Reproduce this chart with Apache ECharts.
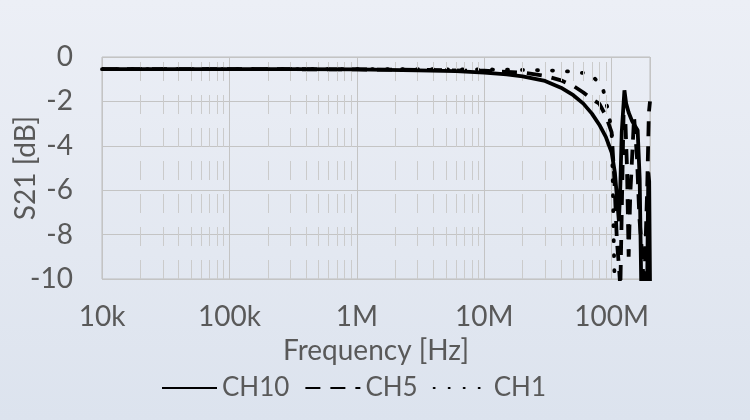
<!DOCTYPE html>
<html>
<head>
<meta charset="utf-8">
<script src="https://cdn.jsdelivr.net/npm/echarts@6/dist/echarts.min.js"></script>
<style>
html,body{margin:0;padding:0;}
#c{width:750px;height:420px;background:linear-gradient(180deg,#eceff6 0%,#e3e8f1 60%,#dce3ee 100%);}
</style>
</head>
<body>
<div id="c"></div>
<script>
// Data (frequency in Hz, S21 in dB)
const seriesNames = ['CH10', 'CH5', 'CH1'];
const xTickLabels = {10000: '10k', 100000: '100k', 1000000: '1M', 10000000: '10M', 100000000: '100M'};

const freqCH10 = [1e4, 2e4, 5e4, 1e5, 3e5, 1e6, 3e6, 6e6, 1e7, 1.5e7, 2e7, 3e7, 4e7, 5e7, 6e7, 7e7, 8e7, 9e7, 1e8, 1.06e8, 1.1e8, 1.14e8, 1.17e8, 1.2e8, 1.26e8, 1.3e8, 1.36e8, 1.45e8, 1.6e8, 1.66e8, 1.71e8, 1.8e8, 1.9e8, 1.94e8, 1.97e8, 2e8];
const valCH10  = [-0.55, -0.55, -0.55, -0.55, -0.55, -0.56, -0.6, -0.64, -0.7, -0.78, -0.87, -1.08, -1.38, -1.72, -2.1, -2.55, -3.05, -3.6, -4.3, -5.2, -6.3, -7.4, -5.8, -3.4, -1.5, -2.1, -2.5, -2.9, -3.3, -5.5, -10.5, -12, -10.4, -5.2, -5.6, -10.2];

const freqCH5 = [1e4, 2e4, 5e4, 1e5, 3e5, 1e6, 3e6, 1e7, 2e7, 3e7, 4e7, 5e7, 6e7, 7e7, 8e7, 9e7, 1e8, 1.05e8, 1.1e8, 1.14e8, 1.17e8, 1.2e8, 1.24e8, 1.28e8, 1.32e8, 1.36e8, 1.4e8, 1.5e8, 1.58e8, 1.65e8, 1.72e8, 1.8e8, 1.9e8, 1.96e8, 2e8];
const valCH5  = [-0.55, -0.55, -0.55, -0.55, -0.55, -0.56, -0.58, -0.62, -0.7, -0.85, -1.05, -1.3, -1.6, -1.9, -2.1, -2.65, -3.4, -5.5, -8.3, -9.4, -10.4, -7.0, -2.6, -2.8, -5.0, -9.0, -6.2, -2.7, -4.5, -7.2, -8.6, -10.5, -6.0, -2.5, -2.0];

const freqCH1 = [1e4, 2e4, 5e4, 1e5, 3e5, 1e6, 3e6, 1e7, 2e7, 4e7, 6e7, 7e7, 8e7, 8.6e7, 9e7, 9.5e7, 1e8, 1.02e8, 1.04e8, 1.06e8, 1.15e8, 1.5e8, 1.9e8, 2e8];
const valCH1  = [-0.55, -0.55, -0.55, -0.55, -0.55, -0.55, -0.55, -0.56, -0.58, -0.62, -0.72, -0.82, -1.2, -1.5, -1.95, -2.6, -3.3, -5.5, -8.5, -10.6, -12, -12, -11, -9.9];

const yMin = -10, yMax = 0, yStep = 2;
const xMin = 1e4, xMax = 2e8;

function pairs(f, v) { return f.map((x, i) => [x, v[i]]); }

// minor (2..9) log grid positions
const minorGrid = [];
for (let d = 1e4; d < xMax; d *= 10) {
  for (let m = 2; m <= 9; m++) { if (d * m < xMax) minorGrid.push(d * m); }
}

const chart = echarts.init(document.getElementById('c'), null, {renderer: 'canvas'});
const txt = '#595959';
const font = 'Lato, "Liberation Sans", sans-serif';

chart.setOption({
  backgroundColor: 'transparent',
  animation: false,
  textStyle: {fontFamily: font},
  grid: {left: 102, right: 100, top: 57, bottom: 141, containLabel: false, outerBoundsMode: 'none',
    show: true, borderColor: '#bcbcbc', borderWidth: 1, backgroundColor: 'transparent'},
  xAxis: {
    type: 'log', logBase: 10, min: xMin, max: xMax,
    name: 'Frequency [Hz]', nameLocation: 'middle', nameGap: 58, nameMoveOverlap: false,
    nameTextStyle: {color: txt, fontSize: 28, fontFamily: font},
    axisLine: {show: false}, axisTick: {show: false},
    axisLabel: {color: txt, fontSize: 28, margin: 24, fontFamily: font,
      formatter: v => xTickLabels[Math.round(v)] || '', showMaxLabel: false},
    splitLine: {show: true, lineStyle: {color: '#c4c4c4', width: 1}}
  },
  yAxis: {
    type: 'value', min: yMin, max: yMax, interval: yStep,
    name: 'S21 [dB]', nameLocation: 'middle', nameGap: 62, nameRotate: 90, nameMoveOverlap: false,
    nameTextStyle: {color: txt, fontSize: 28, fontFamily: font},
    axisLine: {show: false}, axisTick: {show: false},
    axisLabel: {color: txt, fontSize: 28, margin: 29, fontFamily: font},
    splitLine: {show: true, lineStyle: {color: '#c4c4c4', width: 1}}
  },
  legend: {
    data: seriesNames,
    bottom: 14, left: 156, itemWidth: 55, itemHeight: 14, itemGap: 15,
    itemStyle: {opacity: 0},
    textStyle: {color: txt, fontSize: 26, fontFamily: font}
  },
  series: [
    {
      name: 'minor', type: 'line', data: [], silent: true, z: 1,
      markLine: {
        silent: true, symbol: ['none', 'none'], animation: false,
        label: {show: false},
        lineStyle: {color: '#cbcbcb', width: 1, type: [19, 14]},
        data: minorGrid.map(v => ({xAxis: v}))
      }
    },
    {
      name: 'CH10', type: 'line', data: pairs(freqCH10, valCH10), showSymbol: false, symbol: 'none',
      lineStyle: {color: '#000', width: 3.8, type: 'solid'}, itemStyle: {color: '#000'}, z: 5
    },
    {
      name: 'CH5', type: 'line', data: pairs(freqCH5, valCH5), showSymbol: false, symbol: 'none',
      lineStyle: {color: '#000', width: 3.8, type: [15, 10]}, itemStyle: {color: '#000'}, z: 4
    },
    {
      name: 'CH1', type: 'line', data: pairs(freqCH1, valCH1), showSymbol: false, symbol: 'none',
      lineStyle: {color: '#000', width: 3.8, type: [1, 14], cap: 'round'}, itemStyle: {color: '#000'}, z: 3
    }
  ]
});
</script>
</body>
</html>
